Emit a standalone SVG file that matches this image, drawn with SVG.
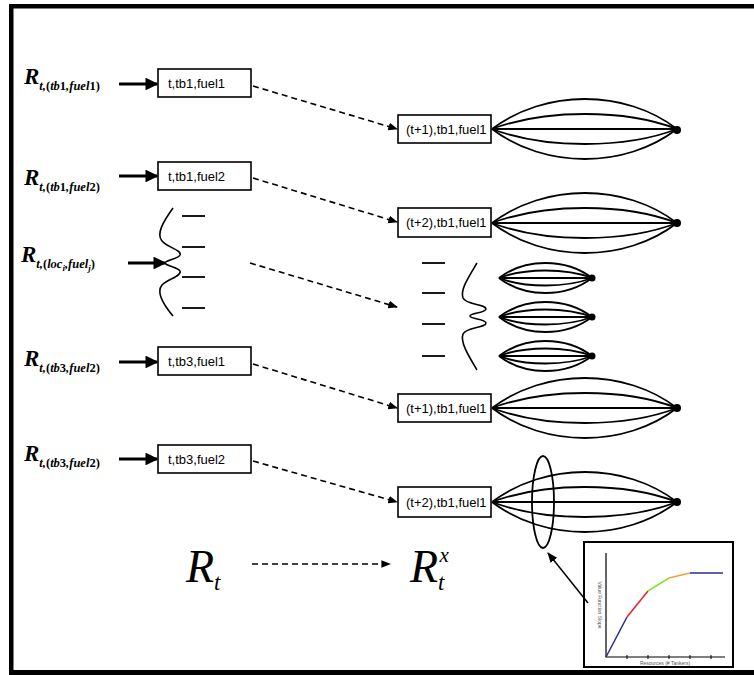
<svg xmlns="http://www.w3.org/2000/svg" width="754" height="675" viewBox="0 0 754 675">
  <defs>
    <marker id="headBold" viewBox="0 0 10 10" refX="9" refY="5" markerWidth="4" markerHeight="4" orient="auto" markerUnits="strokeWidth">
      <path d="M0,0 L10,5 L0,10 z" fill="#000"/>
    </marker>
    <marker id="headDash" viewBox="0 0 10 10" refX="9" refY="5" markerWidth="6" markerHeight="6" orient="auto" markerUnits="strokeWidth">
      <path d="M0,1 L10,5 L0,9 z" fill="#000"/>
    </marker>
    <marker id="headThin" viewBox="0 0 10 10" refX="9" refY="5" markerWidth="7" markerHeight="7" orient="auto" markerUnits="strokeWidth">
      <path d="M0,1 L10,5 L0,9 z" fill="#000"/>
    </marker>
    <style>
      .box { fill: #fff; stroke: #000; stroke-width: 1.6; }
      .boxtxt { font-family: "Liberation Sans", Arial, sans-serif; font-size: 13px; fill: #000; }
      .lbl { font-family: "Liberation Serif", "Times New Roman", serif; font-style: italic; font-weight: bold; fill: #000; }
      .big { font-family: "Liberation Serif", "Times New Roman", serif; font-style: italic; fill: #000; }
      .rm { font-style: normal; }
      .feed { stroke: #000; stroke-width: 3.2; fill: none; marker-end: url(#headBold); }
      .dash { stroke: #000; stroke-width: 1.6; fill: none; stroke-dasharray: 6 4; marker-end: url(#headDash); }
      .fan path { stroke: #000; stroke-width: 1.8; fill: none; }
      .wave { stroke: #000; stroke-width: 1.6; fill: none; }
      .tick { stroke: #000; stroke-width: 1.8; }
      .axis { stroke: #000; stroke-width: 1.2; fill: none; }
      .tiny { font-family: "Liberation Sans", Arial, sans-serif; font-size: 5px; fill: #555; }
    </style>
  </defs>

  <rect x="0" y="0" width="754" height="675" fill="#fff"/>

  <!-- frame -->
  <g id="frame" fill="#000">
    <rect x="9" y="4" width="745" height="4.5"/>
    <rect x="9" y="4" width="4.5" height="671"/>
    <rect x="9" y="670" width="745" height="5"/>
  </g>

  <!-- resource labels, left column -->
  <g id="labels">
    <text class="lbl" x="24" y="84" font-size="23">R<tspan font-size="12.5" dy="6">t,<tspan class="rm">(</tspan>tb<tspan class="rm">1</tspan>,fuel<tspan class="rm">1)</tspan></tspan></text>
    <text class="lbl" x="24" y="185" font-size="23">R<tspan font-size="12.5" dy="6">t,<tspan class="rm">(</tspan>tb<tspan class="rm">1</tspan>,fuel<tspan class="rm">2)</tspan></tspan></text>
    <text class="lbl" x="21" y="262" font-size="23">R<tspan font-size="12.5" dy="6">t,<tspan class="rm">(</tspan>loc<tspan font-size="9" dy="3">i</tspan><tspan dy="-3">,fuel</tspan><tspan font-size="9" dy="3">j</tspan><tspan class="rm" dy="-3">)</tspan></tspan></text>
    <text class="lbl" x="24" y="366" font-size="23">R<tspan font-size="12.5" dy="6">t,<tspan class="rm">(</tspan>tb<tspan class="rm">3</tspan>,fuel<tspan class="rm">2)</tspan></tspan></text>
    <text class="lbl" x="24" y="461" font-size="23">R<tspan font-size="12.5" dy="6">t,<tspan class="rm">(</tspan>tb<tspan class="rm">3</tspan>,fuel<tspan class="rm">2)</tspan></tspan></text>
  </g>

  <!-- pre-decision nodes -->
  <g id="node-t-tb1-fuel1">
    <rect class="box" x="158" y="69" width="93" height="28"/>
    <text class="boxtxt" x="168" y="88">t,tb1,fuel1</text>
  </g>
  <g id="node-t-tb1-fuel2">
    <rect class="box" x="158" y="162" width="93" height="28"/>
    <text class="boxtxt" x="168" y="181">t,tb1,fuel2</text>
  </g>
  <g id="node-t-loc-fuel">
    <path class="wave" d="M173,208 C163,222 156,234 162,241 C168,248 182,250 180,255 C178,259 166,260 165,263 C166,266 178,267 180,271 C182,276 168,279 162,285 C156,292 163,304 173,316"/>
    <g class="tick">
      <line x1="182" y1="216" x2="205" y2="216"/>
      <line x1="182" y1="247" x2="205" y2="247"/>
      <line x1="182" y1="277" x2="205" y2="277"/>
      <line x1="182" y1="308" x2="205" y2="308"/>
    </g>
  </g>
  <g id="node-t-tb3-fuel1">
    <rect class="box" x="158" y="347" width="93" height="28"/>
    <text class="boxtxt" x="168" y="366">t,tb3,fuel1</text>
  </g>
  <g id="node-t-tb3-fuel2">
    <rect class="box" x="158" y="445" width="93" height="28"/>
    <text class="boxtxt" x="168" y="464">t,tb3,fuel2</text>
  </g>

  <!-- post-decision nodes with their outgoing fans -->
  <g id="node-t1-tb1-fuel1-a">
    <g class="fan">
      <path d="M492,129 C545,89 625,89 677,129"/>
      <path d="M492,129 C545,109 625,109 677,129"/>
      <path d="M492,129 L677,129"/>
      <path d="M492,129 C545,149 625,149 677,129"/>
      <path d="M492,129 C545,169 625,169 677,129"/>
    </g>
    <circle cx="677" cy="130" r="4"/>
    <rect class="box" x="398" y="115" width="93" height="28"/>
    <text class="boxtxt" x="406" y="134">(t+1),tb1,fuel1</text>
  </g>
  <g id="node-t2-tb1-fuel1-a">
    <g class="fan">
      <path d="M492,223 C545,183 625,183 677,223"/>
      <path d="M492,223 C545,203 625,203 677,223"/>
      <path d="M492,223 L677,223"/>
      <path d="M492,223 C545,243 625,243 677,223"/>
      <path d="M492,223 C545,263 625,263 677,223"/>
    </g>
    <circle cx="677" cy="223" r="4"/>
    <rect class="box" x="398" y="208" width="93" height="29"/>
    <text class="boxtxt" x="406" y="227">(t+2),tb1,fuel1</text>
  </g>
  <g id="node-loc-fuel-group">
    <g class="tick">
      <line x1="422" y1="263" x2="445" y2="263"/>
      <line x1="422" y1="293" x2="445" y2="293"/>
      <line x1="422" y1="324" x2="445" y2="324"/>
      <line x1="422" y1="356" x2="445" y2="356"/>
    </g>
    <path class="wave" d="M477,263 C468,278 460,290 463,298 C466,305 486,304 486,309 C486,313 470,313 470,316 C470,319 486,319 486,323 C486,328 466,327 463,334 C460,342 468,355 477,370"/>
    <g class="fan">
      <path d="M499,278 C525,258 566,258 592,278"/>
      <path d="M499,278 C525,268 566,268 592,278"/>
      <path d="M499,278 L592,278"/>
      <path d="M499,278 C525,288 566,288 592,278"/>
      <path d="M499,278 C525,298 566,298 592,278"/>
      <path d="M499,317 C525,297 566,297 592,317"/>
      <path d="M499,317 C525,307 566,307 592,317"/>
      <path d="M499,317 L592,317"/>
      <path d="M499,317 C525,327 566,327 592,317"/>
      <path d="M499,317 C525,337 566,337 592,317"/>
      <path d="M499,356 C525,336 566,336 592,356"/>
      <path d="M499,356 C525,346 566,346 592,356"/>
      <path d="M499,356 L592,356"/>
      <path d="M499,356 C525,366 566,366 592,356"/>
      <path d="M499,356 C525,376 566,376 592,356"/>
    </g>
    <circle cx="592" cy="278" r="3.5"/>
    <circle cx="592" cy="317" r="3.5"/>
    <circle cx="592" cy="356" r="3.5"/>
  </g>
  <g id="node-t1-tb1-fuel1-b">
    <g class="fan">
      <path d="M492,408 C545,368 625,368 677,408"/>
      <path d="M492,408 C545,388 625,388 677,408"/>
      <path d="M492,408 L677,408"/>
      <path d="M492,408 C545,428 625,428 677,408"/>
      <path d="M492,408 C545,448 625,448 677,408"/>
    </g>
    <circle cx="677" cy="408" r="4"/>
    <rect class="box" x="398" y="394" width="93" height="28"/>
    <text class="boxtxt" x="406" y="413">(t+1),tb1,fuel1</text>
  </g>
  <g id="node-t2-tb1-fuel1-b">
    <g class="fan">
      <path d="M492,502 C545,462 625,462 677,502"/>
      <path d="M492,502 C545,482 625,482 677,502"/>
      <path d="M492,502 L677,502"/>
      <path d="M492,502 C545,522 625,522 677,502"/>
      <path d="M492,502 C545,542 625,542 677,502"/>
    </g>
    <circle cx="677" cy="502" r="4"/>
    <ellipse cx="543" cy="502" rx="11" ry="46" fill="none" stroke="#000" stroke-width="1.8"/>
    <rect class="box" x="398" y="487" width="93" height="30"/>
    <text class="boxtxt" x="406" y="507">(t+2),tb1,fuel1</text>
  </g>

  <!-- legend: pre-decision to post-decision state -->
  <g id="legend">
    <text class="big" x="186" y="582" font-size="46">R<tspan font-size="23" dy="8">t</tspan></text>
    <text class="big" x="410" y="582" font-size="46">R<tspan font-size="23" dy="8">t</tspan><tspan font-size="21" dx="-5" dy="-28">x</tspan></text>
  </g>

  <!-- value function slope inset -->
  <g id="inset">
    <rect x="584" y="542" width="149" height="125" fill="#fff" stroke="#000" stroke-width="2"/>
    <polyline class="axis" points="606,553 606,657 725,657"/>
    <g stroke="#000" stroke-width="1">
      <line x1="627" y1="655" x2="627" y2="659"/>
      <line x1="648" y1="655" x2="648" y2="659"/>
      <line x1="669" y1="655" x2="669" y2="659"/>
      <line x1="690" y1="655" x2="690" y2="659"/>
      <line x1="711" y1="655" x2="711" y2="659"/>
    </g>
    <g stroke-width="1.5" fill="none">
      <line x1="606" y1="657" x2="627" y2="617" stroke="#2b2b8f"/>
      <line x1="627" y1="617" x2="648" y2="591" stroke="#e02424"/>
      <line x1="648" y1="591" x2="669" y2="578" stroke="#84e03c"/>
      <line x1="669" y1="578" x2="690" y2="573" stroke="#f2a03a"/>
      <line x1="690" y1="573" x2="723" y2="573" stroke="#2b2b8f"/>
    </g>
    <text class="tiny" x="0" y="0" text-anchor="middle" transform="translate(598,605) rotate(90)">Value Function Slope</text>
    <text class="tiny" x="665" y="665" text-anchor="middle">Resources (# Tankers)</text>
  </g>

  <!-- connectors -->
  <g id="connectors">
    <line class="feed" x1="119" y1="84" x2="157" y2="84"/>
    <line class="feed" x1="119" y1="176" x2="157" y2="176"/>
    <line class="feed" x1="128" y1="263" x2="165" y2="263"/>
    <line class="feed" x1="119" y1="362" x2="157" y2="362"/>
    <line class="feed" x1="119" y1="459" x2="157" y2="459"/>

    <line class="dash" x1="253" y1="86" x2="397" y2="129"/>
    <line class="dash" x1="253" y1="178" x2="397" y2="222"/>
    <line class="dash" x1="250" y1="263" x2="397" y2="307"/>
    <line class="dash" x1="253" y1="364" x2="397" y2="408"/>
    <line class="dash" x1="253" y1="461" x2="397" y2="502"/>

    <line class="dash" x1="252" y1="564" x2="390" y2="564"/>

    <line stroke="#000" stroke-width="1.5" marker-end="url(#headThin)" x1="588" y1="603" x2="548" y2="553"/>
  </g>
</svg>
